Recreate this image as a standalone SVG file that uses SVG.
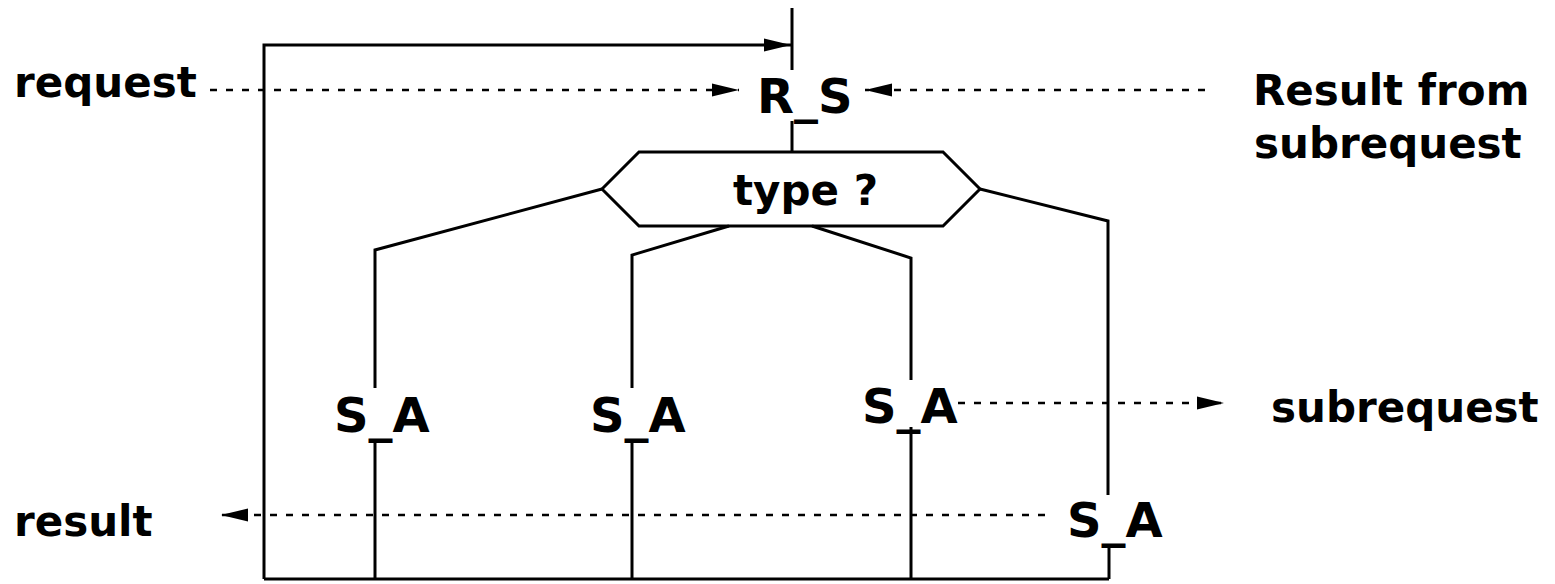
<svg xmlns="http://www.w3.org/2000/svg" width="1555" height="584" viewBox="0 0 1555 584">
<style>
text{font-family:"DejaVu Sans","Verdana",sans-serif;font-weight:bold;fill:#000}
.lbl{font-size:42px}
.big{font-size:48px}
.ln{fill:none;stroke:#000;stroke-width:3}
.dash{fill:none;stroke:#000;stroke-width:2.5;stroke-dasharray:7 9}
</style>
<defs>
<marker id="ah" markerUnits="userSpaceOnUse" markerWidth="28" markerHeight="14" refX="27" refY="7" orient="auto">
<polygon points="0,0.5 27,7 0,13.5" fill="#000"/>
</marker>
</defs>
<rect width="1555" height="584" fill="#fff"/>
<g id="connectors">
<line class="ln" x1="792" y1="8" x2="792" y2="70"/>
<polyline class="ln" points="264,579 264,45 791,45" marker-end="url(#ah)"/>
<line class="ln" x1="264" y1="579" x2="1109" y2="579"/>
<line class="ln" x1="792" y1="121" x2="792" y2="152"/>
<polyline class="ln" points="602,189 375,250 375,388"/>
<polyline class="ln" points="729,226 632,255 632,388"/>
<polyline class="ln" points="812,226 911,258 911,380"/>
<polyline class="ln" points="980,189 1108,221 1108,495"/>
<line class="ln" x1="375" y1="441" x2="375" y2="579"/>
<line class="ln" x1="632" y1="441" x2="632" y2="579"/>
<line class="ln" x1="911" y1="427" x2="911" y2="579"/>
<line class="ln" x1="1109" y1="546" x2="1109" y2="579"/>
<line class="dash" x1="210" y1="90" x2="739" y2="90" marker-end="url(#ah)"/>
<line class="dash" x1="1205" y1="90" x2="865" y2="90" marker-end="url(#ah)"/>
<line class="dash" x1="958" y1="403" x2="1224" y2="403" marker-end="url(#ah)"/>
<line class="dash" x1="1045" y1="515" x2="221" y2="515" marker-end="url(#ah)"/>
</g>
<g id="request"><text class="lbl" x="14" y="97">request</text></g>
<g id="result_from"><text class="lbl" x="1253" y="105">Result from</text><text class="lbl" x="1254" y="158">subrequest</text></g>
<g id="R_S"><text class="big" x="757" y="113">R_S</text></g>
<g id="type"><polygon class="ln" points="602,189 639,152 943,152 980,189 943,226 639,226" fill="#fff"/><text class="lbl" x="733" y="205">type ?</text></g>
<g id="S_A1"><text class="big" x="334" y="432">S_A</text></g>
<g id="S_A2"><text class="big" x="590" y="432">S_A</text></g>
<g id="S_A3"><text class="big" x="862" y="423">S_A</text></g>
<g id="S_A4"><text class="big" x="1067" y="537">S_A</text></g>
<g id="subrequest"><text class="lbl" x="1271" y="422">subrequest</text></g>
<g id="result"><text class="lbl" x="14" y="536">result</text></g>
</svg>
